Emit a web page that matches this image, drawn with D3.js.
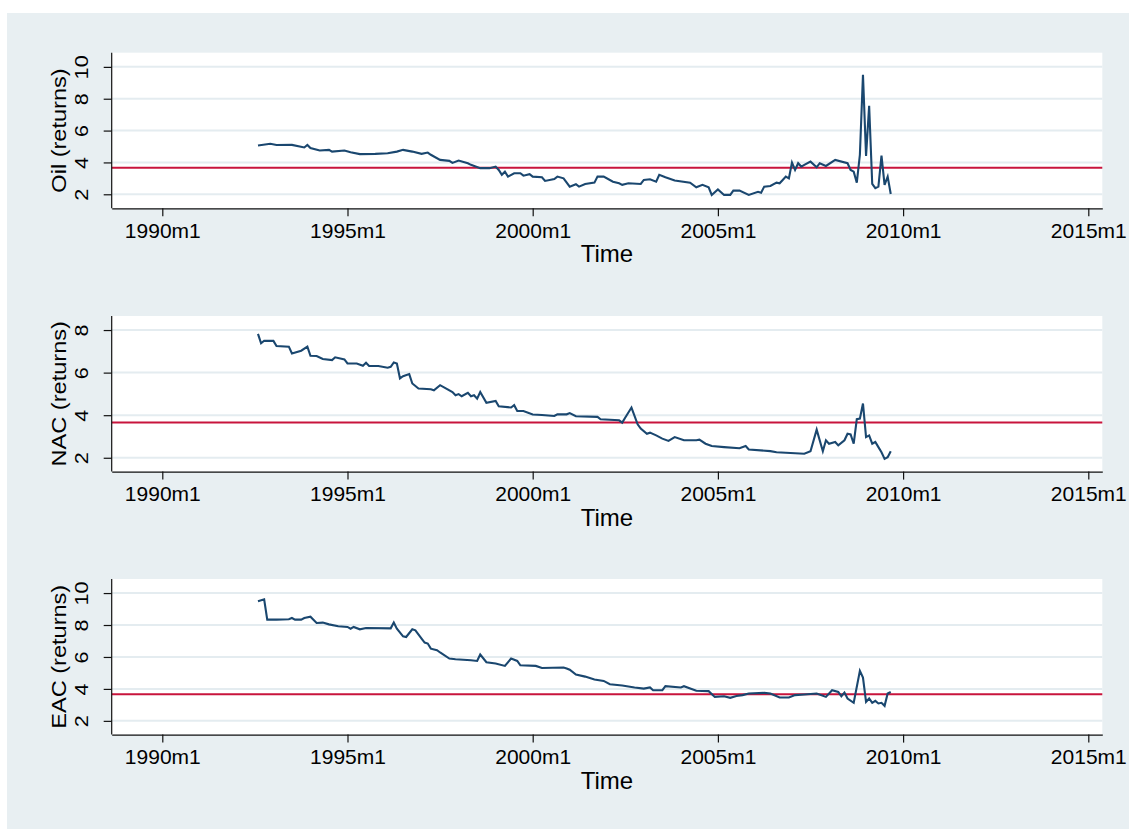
<!DOCTYPE html>
<html>
<head>
<meta http-equiv="Content-Type" content="text/html;charset=utf-8">
<script type="text/javascript" src="https://cdn.jsdelivr.net/npm/d3@7"></script>
<style>
body { margin: 0; background: #fff; }
text { font-family: "Liberation Sans", Arial, Helvetica, sans-serif; fill: #000; }
</style>
</head>
<body>
<div id="chart"></div>
<script type="text/javascript">

// x axis tick labels (Stata monthly dates)
var xTickLabels = ["1990m1", "1995m1", "2000m1", "2005m1", "2010m1", "2015m1"];

// horizontal reference line (same in all three panels)
var refValue = 3.66;

// Oil (returns)
var oilDates = ["1992m8","1992m12","1993m2","1993m7","1993m11","1993m12","1994m1","1994m4","1994m7","1994m8",
  "1994m12","1995m2","1995m5","1995m10","1996m2","1996m5","1996m7","1996m10","1997m1","1997m3",
  "1997m4","1997m7","1997m10","1997m11","1998m1","1998m4","1998m5","1998m8","1998m11","1999m1",
  "1999m2","1999m3","1999m4","1999m5","1999m7","1999m9","1999m10","1999m12","2000m1","2000m4",
  "2000m5","2000m8","2000m9","2000m11","2001m1","2001m3","2001m4","2001m6","2001m9","2001m10",
  "2001m12","2002m3","2002m5","2002m6","2002m8","2002m12","2003m1","2003m3","2003m5","2003m6",
  "2003m8","2003m11","2004m4","2004m6","2004m8","2004m10","2004m11","2005m1","2005m3","2005m5",
  "2005m6","2005m8","2005m11","2006m2","2006m3","2006m4","2006m6","2006m8","2006m9","2006m10",
  "2006m11","2006m12","2007m1","2007m2","2007m3","2007m4","2007m5","2007m7","2007m9","2007m10",
  "2007m12","2008m3","2008m7","2008m8","2008m9","2008m10","2008m11","2008m12","2009m1","2009m2",
  "2009m3","2009m4","2009m5","2009m6","2009m7","2009m8","2009m9"];
var oilValues = [5.06,5.17,5.09,5.10,4.94,5.10,4.90,4.75,4.79,4.68,
  4.75,4.64,4.52,4.54,4.58,4.68,4.79,4.68,4.54,4.62,
  4.48,4.16,4.10,3.97,4.12,3.95,3.85,3.64,3.64,3.74,
  3.53,3.22,3.42,3.11,3.32,3.32,3.17,3.26,3.11,3.07,
  2.84,2.96,3.11,3.00,2.48,2.63,2.48,2.65,2.73,3.11,
  3.11,2.79,2.69,2.59,2.69,2.65,2.90,2.94,2.79,3.22,
  3.07,2.86,2.73,2.44,2.59,2.44,1.96,2.31,1.96,1.96,
  2.23,2.23,1.96,2.16,2.10,2.48,2.52,2.73,2.69,2.90,
  3.11,3.00,3.99,3.53,3.95,3.74,3.85,4.05,3.70,3.95,
  3.78,4.16,3.95,3.53,3.42,2.73,4.48,9.51,4.41,7.56,
  2.65,2.38,2.48,4.43,2.59,3.11,2.02];

// NAC (returns)
var nacDates = ["1992m8","1992m9","1992m10","1993m1","1993m2","1993m6","1993m7","1993m10","1993m12","1994m1",
  "1994m3","1994m5","1994m8","1994m9","1994m12","1995m1","1995m4","1995m6","1995m7","1995m8",
  "1995m11","1996m2","1996m3","1996m4","1996m5","1996m6","1996m7","1996m9","1996m10","1996m12",
  "1997m4","1997m5","1997m7","1997m9","1997m11","1997m12","1998m1","1998m2","1998m4","1998m5",
  "1998m6","1998m7","1998m8","1998m10","1999m1","1999m2","1999m6","1999m7","1999m8","1999m10",
  "2000m1","2000m4","2000m8","2000m9","2000m12","2001m1","2001m3","2001m10","2001m11","2002m5",
  "2002m6","2002m7","2002m9","2002m11","2002m12","2003m2","2003m3","2003m5","2003m7","2003m9",
  "2003m11","2004m2","2004m6","2004m7","2004m9","2004m11","2005m3","2005m8","2005m10","2005m11",
  "2006m6","2006m8","2007m5","2007m7","2007m9","2007m11","2007m12","2008m1","2008m3","2008m4",
  "2008m6","2008m7","2008m8","2008m9","2008m10","2008m11","2008m12","2009m1","2009m2","2009m3",
  "2009m4","2009m5","2009m6","2009m7","2009m8","2009m9"];
var nacValues = [7.82,7.38,7.50,7.49,7.25,7.22,6.90,7.03,7.22,6.79,
  6.78,6.64,6.59,6.72,6.62,6.43,6.43,6.32,6.46,6.31,
  6.31,6.23,6.27,6.48,6.43,5.73,5.83,5.93,5.49,5.25,
  5.22,5.17,5.41,5.25,5.09,4.94,4.99,4.89,5.05,4.89,
  4.94,4.78,5.09,4.58,4.67,4.42,4.36,4.47,4.20,4.20,
  4.03,4.01,3.96,4.04,4.04,4.10,3.95,3.92,3.81,3.76,
  3.65,3.89,4.36,3.57,3.37,3.13,3.18,3.05,2.90,2.79,
  2.97,2.82,2.82,2.85,2.66,2.55,2.50,2.45,2.55,2.39,
  2.31,2.26,2.19,2.31,3.32,2.31,2.82,2.66,2.74,2.58,
  2.82,3.13,3.10,2.66,3.81,3.84,4.55,2.97,3.05,2.66,
  2.74,2.50,2.26,1.95,2.03,2.31];

// EAC (returns)
var eacDates = ["1992m8","1992m10","1992m11","1993m2","1993m6","1993m7","1993m8","1993m10","1993m11","1994m1",
  "1994m3","1994m5","1994m7","1994m10","1995m1","1995m2","1995m3","1995m5","1995m7","1996m3",
  "1996m4","1996m5","1996m7","1996m8","1996m10","1996m11","1997m1","1997m2","1997m3","1997m4",
  "1997m6","1997m7","1997m10","1997m12","1998m5","1998m7","1998m8","1998m10","1999m1","1999m4",
  "1999m6","1999m8","1999m9","2000m2","2000m4","2000m11","2000m12","2001m1","2001m3","2001m6",
  "2001m9","2001m12","2002m2","2002m6","2002m10","2003m1","2003m3","2003m4","2003m7","2003m8",
  "2004m1","2004m2","2004m6","2004m10","2004m12","2005m3","2005m5","2005m7","2005m9","2005m11",
  "2006m4","2006m6","2006m9","2006m12","2007m2","2007m5","2007m9","2007m12","2008m2","2008m4",
  "2008m5","2008m6","2008m7","2008m9","2008m11","2008m12","2009m1","2009m2","2009m3","2009m4",
  "2009m5","2009m6","2009m7","2009m8","2009m9"];
var eacValues = [9.48,9.61,8.34,8.34,8.36,8.44,8.34,8.34,8.44,8.52,
  8.13,8.15,8.04,7.92,7.88,7.77,7.88,7.73,7.81,7.79,
  8.15,7.77,7.29,7.25,7.73,7.67,7.15,6.90,6.84,6.52,
  6.42,6.28,5.90,5.86,5.79,5.75,6.15,5.67,5.59,5.44,
  5.90,5.75,5.48,5.44,5.31,5.34,5.28,5.20,4.90,4.77,
  4.59,4.50,4.29,4.21,4.09,4.02,4.09,3.92,3.92,4.17,
  4.09,4.17,3.88,3.86,3.50,3.54,3.44,3.56,3.61,3.71,
  3.75,3.71,3.46,3.46,3.61,3.65,3.71,3.50,3.92,3.81,
  3.54,3.77,3.40,3.13,5.13,4.71,3.19,3.40,3.13,3.25,
  3.09,3.13,2.94,3.71,3.81];

var panelTitles = ["Oil (returns)", "NAC (returns)", "EAC (returns)"];
var panelYTicks = [[2, 4, 6, 8, 10], [2, 4, 6, 8], [2, 4, 6, 8, 10]];

// layout
var width = 1129, height = 829;
var plotLeft = 111.7, plotRight = 1102.3;
var panelTop = [52.7, 316, 579];
var panelHeight = 155.6;
var yDomains = [[1.12, 10.89], [1.35, 8.66], [1.14, 10.88]];

function parseMonth(s) {
  var p = s.split("m");
  return +p[0] + (+p[1] - 1) / 12;
}

var panels = [
  {title: panelTitles[0], dates: oilDates, values: oilValues, ticks: panelYTicks[0]},
  {title: panelTitles[1], dates: nacDates, values: nacValues, ticks: panelYTicks[1]},
  {title: panelTitles[2], dates: eacDates, values: eacValues, ticks: panelYTicks[2]}
];

var svg = d3.select("#chart").append("svg")
  .attr("width", width)
  .attr("height", height);

svg.append("rect")
  .attr("x", 7).attr("y", 13)
  .attr("width", width - 7).attr("height", height - 13)
  .attr("fill", "#e8eff2");

var x = d3.scaleLinear()
  .domain([1988.634, 2015.378])
  .range([plotLeft, plotRight]);

var xTickValues = xTickLabels.map(parseMonth);

panels.forEach(function(p, i) {
  var top = panelTop[i], bottom = top + panelHeight;
  var y = d3.scaleLinear().domain(yDomains[i]).range([bottom, top]);
  var g = svg.append("g");

  g.append("rect")
    .attr("x", plotLeft).attr("y", top)
    .attr("width", plotRight - plotLeft).attr("height", panelHeight)
    .attr("fill", "#fff");

  // grid lines
  g.selectAll(".grid")
    .data(p.ticks)
    .enter().append("line")
    .attr("class", "grid")
    .attr("x1", plotLeft).attr("x2", plotRight)
    .attr("y1", function(d) { return y(d); })
    .attr("y2", function(d) { return y(d); })
    .attr("stroke", "#e4ecf0")
    .attr("stroke-width", 2);

  // reference line
  g.append("line")
    .attr("x1", plotLeft).attr("x2", plotRight)
    .attr("y1", y(refValue)).attr("y2", y(refValue))
    .attr("stroke", "#c8143c")
    .attr("stroke-width", 2);

  // series
  var line = d3.line()
    .x(function(d) { return x(d[0]); })
    .y(function(d) { return y(d[1]); });

  g.append("path")
    .datum(d3.zip(p.dates.map(parseMonth), p.values))
    .attr("d", line)
    .attr("fill", "none")
    .attr("stroke", "#1a476f")
    .attr("stroke-width", 2.1);

  // x axis
  var xAxis = d3.axisBottom(x)
    .tickValues(xTickValues)
    .tickFormat(function(d, k) { return xTickLabels[k]; })
    .tickSize(8)
    .tickSizeOuter(0)
    .tickPadding(6.3);

  var gx = g.append("g")
    .attr("transform", "translate(0," + bottom + ")")
    .call(xAxis)
    .attr("font-size", 21)
    .attr("font-family", null);
  gx.selectAll("path, line").attr("stroke", "#111").attr("stroke-width", 1.2);

  // y axis, rotated labels
  var yAxis = d3.axisLeft(y)
    .tickValues(p.ticks)
    .tickSize(8)
    .tickSizeOuter(0);

  var gy = g.append("g")
    .attr("transform", "translate(" + plotLeft + ",0)")
    .call(yAxis)
    .attr("font-size", 18)
    .attr("font-family", null);
  gy.select(".domain").attr("d", "M0," + top + "V" + bottom);
  gy.selectAll("path, line").attr("stroke", "#111").attr("stroke-width", 1.2);
  gy.selectAll(".tick text")
    .attr("x", null)
    .attr("dy", null)
    .attr("text-anchor", "middle")
    .attr("transform", "translate(-23.4,0) rotate(-90) scale(1.2,1)");

  // axis titles
  g.append("text")
    .attr("text-anchor", "middle")
    .attr("font-size", 20.5)
    .attr("transform", "translate(66," + (top + bottom) / 2 + ") rotate(-90) scale(1.15,1)")
    .text(p.title);

  g.append("text")
    .attr("x", (plotLeft + plotRight) / 2)
    .attr("y", bottom + 54)
    .attr("text-anchor", "middle")
    .attr("font-size", 24)
    .text("Time");
});

</script>
</body>
</html>
